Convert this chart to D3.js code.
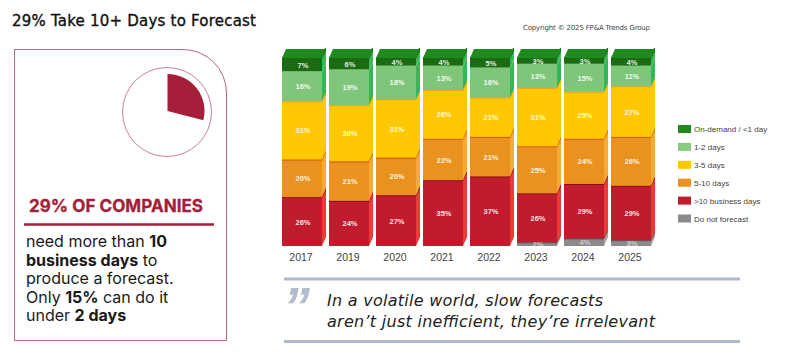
<!DOCTYPE html>
<html lang="en">
<head>
<meta charset="UTF-8">
<title>29% Take 10+ Days to Forecast</title>
<script src="https://d3js.org/d3.v7.min.js"></script>
<style>
    html, body { margin: 0; padding: 0; background: #fff; }
    svg { display: block; }
    text { font-family: "Liberation Sans", Arial, sans-serif; }
    .lucida { font-family: "DejaVu Sans", sans-serif; }
    .poppins { font-family: Inter, "Noto Sans", sans-serif; }
</style>
</head>
<body>
<svg id="chart" width="788" height="361"></svg>
<script>
    // values, in % of companies
    const years = ["2017", "2019", "2020", "2021", "2022", "2023", "2024", "2025"];
    const doNotForecast = [0, 0, 0, 0, 0, 2, 4, 3];
    const moreThan10 = [26, 24, 27, 35, 37, 26, 29, 29];
    const days5to10 = [20, 21, 20, 22, 21, 25, 24, 26];
    const days3to5 = [31, 30, 31, 26, 21, 31, 25, 27];
    const days1to2 = [16, 19, 18, 13, 16, 13, 15, 11];
    const onDemand = [7, 6, 4, 4, 5, 3, 3, 4];

    const seriesNames = ["Do not forecast", ">10 business days", "5-10 days", "3-5 days", "1-2 days", "On-demand / <1 day"];
    const seriesValues = [doNotForecast, moreThan10, days5to10, days3to5, days1to2, onDemand];
    const legendOrder = ["On-demand / <1 day", "1-2 days", "3-5 days", "5-10 days", ">10 business days", "Do not forecast"];
    const pieShare = 29;

    const frontColors = ["#8a8a8a", "#c11c2e", "#ea921f", "#ffc800", "#7fc67a", "#1b6a14"];
    const sideColors = ["#a8a8a8", "#ee3a35", "#f7a935", "#ffc800", "#32b857", "#32b857"];
    const edgeColors = ["#5c5c5c", "#8c0a14", "#d4570f", "#f5a31f", "#7fc67a", "#1b6a14"];
    const legendColors = ["#1f8a1d", "#86cc7c", "#ffc800", "#ea921f", "#c11c2e", "#8a8a8a"];

    const svg = d3.select("#chart");

    // ---- title and copyright
    svg.append("text").attr("class", "lucida").attr("x", 12).attr("y", 26)
        .attr("font-size", 15).attr("fill", "#111").attr("stroke", "#111").attr("stroke-width", 0.35)
        .attr("textLength", 244).text("29% Take 10+ Days to Forecast");
    svg.append("text").attr("class", "lucida").attr("x", 523).attr("y", 30)
        .attr("font-size", 7).attr("fill", "#444").attr("textLength", 127)
        .text("Copyright © 2025 FP&A Trends Group");

    // ---- left panel
    const red = "#a51e3a";
    svg.append("path")
        .attr("d", "M14.5,49.5 H183 A43.5,43.5 0 0 1 226.5,93 V340.5 H14.5 Z")
        .attr("fill", "#fff").attr("stroke", "#b5647f").attr("stroke-width", 1);
    svg.append("circle").attr("cx", 167).attr("cy", 112).attr("r", 44.5)
        .attr("fill", "#fff").attr("stroke", "#b5647f").attr("stroke-width", 0.8);
    const pie = d3.pie().sort(null)([pieShare, 100 - pieShare]);
    svg.append("path")
        .attr("transform", "translate(167.5,111)")
        .attr("d", d3.arc().innerRadius(0).outerRadius(37)(pie[0]))
        .attr("fill", red);

    svg.append("text").attr("class", "poppins").attr("x", 29).attr("y", 212)
        .attr("font-size", 17).attr("font-weight", 700).attr("fill", red)
        .attr("stroke", red).attr("stroke-width", 0.35)
        .attr("textLength", 174).text("29% OF COMPANIES");
    svg.append("line").attr("x1", 24).attr("x2", 214).attr("y1", 224.5).attr("y2", 224.5)
        .attr("stroke", red).attr("stroke-width", 2.5);

    const panelLines = [
        [["need more than ", 400], ["10", 700]],
        [["business days", 700], [" to", 400]],
        [["produce a forecast.", 400]],
        [["Only ", 400], ["15%", 700], [" can do it", 400]],
        [["under ", 400], ["2 days", 700]]
    ];
    panelLines.forEach((parts, i) => {
        const t = svg.append("text").attr("class", "poppins").attr("x", 26).attr("y", 247 + i * 18.6)
            .attr("font-size", 16).attr("fill", "#1a1a1a").attr("xml:space", "preserve");
        parts.forEach(p => t.append("tspan").attr("font-weight", p[1]).text(p[0]));
    });

    // ---- 3D stacked bars
    const depthX = 4, depthY = 9, edge = 2;
    const x = d3.scaleBand().domain(years).range([282, 651]).paddingInner(7 / 47).paddingOuter(0);
    const y = d3.scaleLinear().domain([0, 100]).range([246, 58]);

    const table = years.map((yr, i) => {
        const row = { year: yr };
        seriesNames.forEach((s, j) => { row[s] = seriesValues[j][i]; });
        return row;
    });
    const stacked = d3.stack().keys(seriesNames)(table);
    const poly = pts => "M" + pts.map(p => p.join(",")).join("L") + "Z";

    stacked.forEach((layer, j) => {
        const g = svg.append("g");
        const rows = layer.filter(d => d[1] > d[0]);

        // right side face
        g.selectAll(".side").data(rows).enter().append("path").attr("class", "side")
            .attr("fill", sideColors[j])
            .attr("d", d => {
                const r = x(d.data.year) + x.bandwidth();
                return poly([[r, y(d[0])], [r + depthX, y(d[0]) - depthY], [r + depthX, y(d[1]) - depthY], [r, y(d[1])]]);
            });
        // front face
        g.selectAll(".front").data(rows).enter().append("rect").attr("class", "front")
            .attr("x", d => x(d.data.year))
            .attr("width", x.bandwidth())
            .attr("y", d => y(d[1]))
            .attr("height", d => y(d[0]) - y(d[1]))
            .attr("fill", frontColors[j]);
        // darker seam along the top, running up the side
        g.selectAll(".seam").data(rows).enter().append("path").attr("class", "seam")
            .attr("fill", edgeColors[j])
            .attr("d", d => {
                const l = x(d.data.year), r = l + x.bandwidth(), t = y(d[1]);
                return poly([[l, t - 1], [r - 1, t - 1], [r + depthX - 1, t - depthY - 1], [r + depthX, t - depthY - 1],
                    [r + depthX, t - depthY + edge], [r, t + edge - 1], [l, t + edge - 1]]);
            });
    });

    // top face of the stacks
    svg.append("g").selectAll("path").data(stacked[stacked.length - 1]).enter().append("path")
        .attr("fill", "#1f8a1d")
        .attr("d", d => {
            const l = x(d.data.year), r = l + x.bandwidth(), t = y(d[1]);
            return poly([[l, t], [l + depthX, t - depthY], [r + depthX, t - depthY], [r, t]]);
        });

    // value labels
    stacked.forEach((layer, j) => {
        svg.append("g").selectAll("text").data(layer.filter(d => d[1] > d[0])).enter().append("text")
            .attr("x", d => x(d.data.year) + x.bandwidth() / 2 + 1)
            .attr("y", d => (y(d[0]) + y(d[1])) / 2 + 3)
            .attr("text-anchor", "middle")
            .attr("font-size", 7.5).attr("font-weight", 700)
            .attr("fill", "#fff").attr("fill-opacity", j === 0 ? 0.6 : 0.9)
            .text(d => (d[1] - d[0]) + "%");
    });

    // year axis
    const axis = svg.append("g").attr("transform", "translate(-1,252)")
        .call(d3.axisBottom(x).tickSize(0).tickPadding(2));
    axis.select(".domain").remove();
    axis.selectAll("text").attr("font-family", "Liberation Sans, Arial, sans-serif")
        .attr("font-size", 10.5).attr("fill", "#444");

    // legend
    const legendY = d3.scalePoint().domain(legendOrder).range([129, 218.5]);
    const legend = svg.append("g").selectAll("g").data(legendOrder).enter().append("g")
        .attr("transform", d => `translate(678,${legendY(d)})`);
    legend.append("rect").attr("x", 0).attr("y", -4).attr("width", 13).attr("height", 8)
        .attr("fill", (d, i) => legendColors[i]);
    legend.append("text").attr("x", 16).attr("y", 3).attr("font-size", 8).attr("fill", "#444").text(d => d);

    // ---- quote
    [279, 341.5].forEach(v => {
        svg.append("line").attr("x1", 284).attr("x2", 740).attr("y1", v).attr("y2", v)
            .attr("stroke", "#b0b9cc").attr("stroke-width", 3);
    });
    svg.append("text").attr("x", 283).attr("y", 325).attr("font-family", "Liberation Serif, serif")
        .attr("font-size", 54).attr("font-weight", 700).attr("font-style", "italic")
        .attr("fill", "#b3bccd").text("”");
    svg.append("text").attr("class", "lucida").attr("x", 327).attr("y", 306)
        .attr("font-size", 16).attr("font-style", "italic").attr("fill", "#222")
        .attr("textLength", 276).text("In a volatile world, slow forecasts");
    svg.append("text").attr("class", "lucida").attr("x", 327).attr("y", 327)
        .attr("font-size", 16).attr("font-style", "italic").attr("fill", "#222")
        .attr("textLength", 328).text("aren’t just inefficient, they’re irrelevant");
</script>
</body>
</html>
